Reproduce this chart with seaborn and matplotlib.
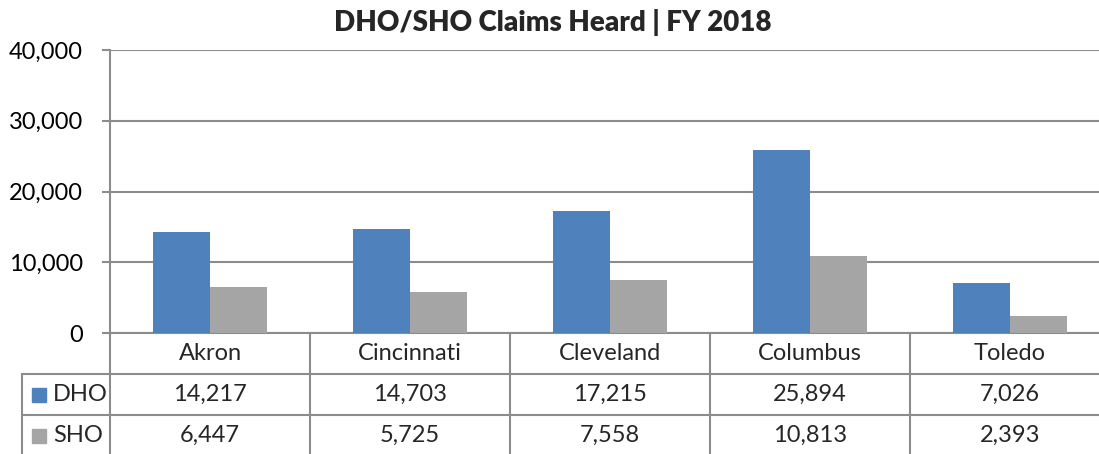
import matplotlib
matplotlib.use("Agg")
import matplotlib.pyplot as plt
import seaborn as sns
import pandas as pd
from matplotlib.patches import Rectangle
from matplotlib.ticker import FuncFormatter

cities = ["Akron", "Cincinnati", "Cleveland", "Columbus", "Toledo"]
series_names = ["DHO", "SHO"]
dho = [14217, 14703, 17215, 25894, 7026]
sho = [6447, 5725, 7558, 10813, 2393]
yticks = [0, 10000, 20000, 30000, 40000]
title = "DHO/SHO Claims Heard | FY 2018"

BLUE = "#4F81BD"
GRAY = "#A5A5A5"
LINE = "#8C8C8C"

sns.set_theme(style="white")
plt.rcParams["font.family"] = ["Lato", "DejaVu Sans"]

df = pd.DataFrame({
    "city": cities * 2,
    "series": [series_names[0]] * len(cities) + [series_names[1]] * len(cities),
    "value": dho + sho,
})

W, H = 1099, 454
fig = plt.figure(figsize=(W / 100, H / 100), dpi=100)


def px(x0, y0, x1, y1):
    return [x0 / W, 1 - y1 / H, (x1 - x0) / W, (y1 - y0) / H]


FS = 17

ax = fig.add_axes(px(110, 50, 1110, 333))
sns.barplot(data=df, x="city", y="value", hue="series", palette=[BLUE, GRAY],
            width=0.566, gap=0, saturation=1, legend=False, ax=ax, zorder=3,
            linewidth=0, edgecolor="none")
ax.set_xlim(-0.5, 4.5)
ax.set_ylim(0, 40000)
ax.set_yticks(yticks)
ax.yaxis.set_major_formatter(FuncFormatter(lambda v, p: f"{int(v):,}"))
ax.yaxis.grid(True, color=LINE, lw=1.5, zorder=0)
ax.set_axisbelow(True)
for s in ["top", "right"]:
    ax.spines[s].set_visible(False)
ax.spines["left"].set_color(LINE)
ax.spines["left"].set_linewidth(1.5)
ax.spines["bottom"].set_color(LINE)
ax.spines["bottom"].set_linewidth(1.5)
ax.tick_params(axis="y", direction="out", length=5.8, width=1.5, color=LINE,
               pad=13.5, labelsize=FS, labelcolor="black", left=True)
ax.tick_params(axis="x", bottom=False, labelbottom=False)
ax.set_xlabel("")
ax.set_ylabel("")

# Data table below the plot
tax = fig.add_axes(px(22, 333, 1110, 456))
x_left = -0.5 - 88 / 200
tax.set_xlim(x_left, 4.5)
tax.set_ylim(3, 0)
tax.axis("off")

for r in (1, 2):
    tax.plot([x_left, 4.5], [r, r], color=LINE, lw=1.5, clip_on=False)
for i in range(len(cities) + 1):
    tax.plot([i - 0.5, i - 0.5], [0, 3], color=LINE, lw=1.5, clip_on=False)
tax.plot([x_left, x_left], [1, 3], color=LINE, lw=1.5, clip_on=False)

for i, c in enumerate(cities):
    tax.text(i, 0.5, c, ha="center", va="center", fontsize=FS)
    tax.text(i, 1.5, f"{dho[i]:,}", ha="center", va="center", fontsize=FS)
    tax.text(i, 2.5, f"{sho[i]:,}", ha="center", va="center", fontsize=FS)

for r, (name, col) in enumerate(zip(series_names, [BLUE, GRAY])):
    yc = 1.5 + r
    kx = x_left + 10 / 200
    tax.add_patch(Rectangle((kx, yc - 7 / 41), 14 / 200, 14 / 41, color=col,
                            clip_on=False))
    tax.text(x_left + 31 / 200, yc, name, ha="left", va="center", fontsize=FS)

fig.text(553 / W, 1 - 22 / H, title, ha="center", va="center",
         fontsize=20, fontweight="heavy")

fig.savefig("out.png", dpi=100)
